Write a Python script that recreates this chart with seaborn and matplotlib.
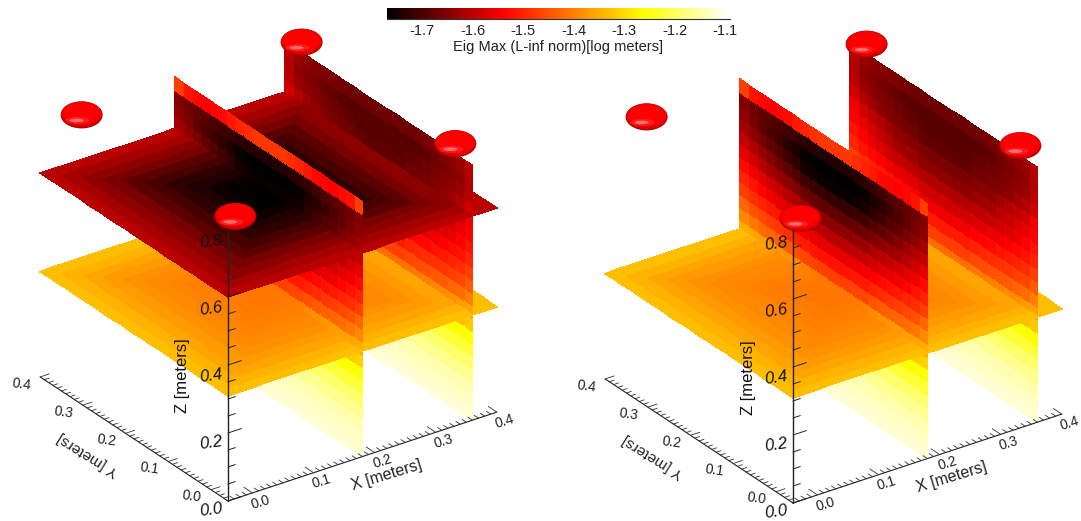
import numpy as np
import seaborn as sns
import matplotlib.pyplot as plt
from matplotlib.colors import LinearSegmentedColormap, Normalize
from matplotlib.patches import Ellipse

# cell edges of the slices, meters
grid_xy = [-0.04, -0.02, 0.0, 0.02, 0.04, 0.06, 0.08, 0.10, 0.12, 0.14, 0.16, 0.18,
           0.20, 0.22, 0.24, 0.26, 0.28, 0.30, 0.32, 0.34, 0.36, 0.38, 0.40]
grid_z = [0.0, 0.0375, 0.075, 0.1125, 0.15, 0.1875, 0.225, 0.2625, 0.3, 0.3375, 0.375,
          0.4125, 0.45, 0.4875, 0.525, 0.5625, 0.6, 0.6375, 0.675, 0.7125, 0.75]

# horizontal slices, value per square ring from the edge to the middle
rings_z06 = [-1.60, -1.62, -1.64, -1.66, -1.685, -1.705, -1.725, -1.74, -1.755, -1.765, -1.77]
rings_z03 = [-1.33, -1.345, -1.36, -1.37, -1.38, -1.39, -1.395, -1.40, -1.405, -1.41, -1.41]

# vertical slices: the lowest rows are the same across y
wall_low = [-1.12, -1.13, -1.145, -1.165, -1.19, -1.225, -1.26]

# columns from the y edge to the middle, rows going up from wall_low
wall_x018 = [
    [-1.31, -1.35, -1.39, -1.43, -1.47, -1.50, -1.53, -1.56, -1.59, -1.62, -1.64, -1.65, -1.47],
    [-1.32, -1.36, -1.41, -1.45, -1.49, -1.52, -1.55, -1.58, -1.61, -1.64, -1.66, -1.67, -1.52],
    [-1.325, -1.365, -1.42, -1.46, -1.50, -1.535, -1.565, -1.60, -1.63, -1.66, -1.68, -1.68, -1.53],
    [-1.33, -1.37, -1.43, -1.47, -1.51, -1.55, -1.58, -1.62, -1.65, -1.68, -1.70, -1.69, -1.54],
    [-1.335, -1.375, -1.435, -1.48, -1.52, -1.56, -1.59, -1.63, -1.665, -1.695, -1.715, -1.70, -1.535],
    [-1.34, -1.38, -1.44, -1.49, -1.53, -1.57, -1.60, -1.64, -1.68, -1.71, -1.73, -1.71, -1.53],
    [-1.345, -1.39, -1.45, -1.50, -1.54, -1.58, -1.615, -1.655, -1.695, -1.73, -1.745, -1.72, -1.515],
    [-1.35, -1.40, -1.46, -1.51, -1.55, -1.59, -1.63, -1.67, -1.71, -1.75, -1.76, -1.73, -1.50],
    [-1.355, -1.405, -1.465, -1.515, -1.555, -1.595, -1.635, -1.675, -1.715, -1.755, -1.765, -1.735, -1.49],
    [-1.36, -1.41, -1.47, -1.52, -1.56, -1.60, -1.64, -1.68, -1.72, -1.76, -1.77, -1.74, -1.48],
    [-1.36, -1.41, -1.47, -1.52, -1.56, -1.60, -1.64, -1.68, -1.72, -1.76, -1.77, -1.74, -1.48],
]
wall_x036 = [
    [-1.32, -1.36, -1.40, -1.44, -1.47, -1.50, -1.52, -1.54, -1.55, -1.58, -1.60, -1.61, -1.60],
    [-1.33, -1.37, -1.42, -1.46, -1.49, -1.52, -1.54, -1.56, -1.58, -1.61, -1.63, -1.64, -1.63],
    [-1.335, -1.38, -1.43, -1.47, -1.50, -1.53, -1.555, -1.575, -1.595, -1.625, -1.64, -1.65, -1.64],
    [-1.34, -1.39, -1.44, -1.48, -1.51, -1.54, -1.57, -1.59, -1.61, -1.64, -1.65, -1.66, -1.65],
    [-1.345, -1.395, -1.445, -1.485, -1.52, -1.55, -1.58, -1.605, -1.625, -1.65, -1.66, -1.67, -1.655],
    [-1.35, -1.40, -1.45, -1.49, -1.53, -1.56, -1.59, -1.62, -1.64, -1.66, -1.67, -1.68, -1.66],
    [-1.355, -1.405, -1.455, -1.495, -1.535, -1.565, -1.595, -1.625, -1.645, -1.665, -1.675, -1.685, -1.665],
    [-1.36, -1.41, -1.46, -1.50, -1.54, -1.57, -1.60, -1.63, -1.65, -1.67, -1.68, -1.69, -1.67],
    [-1.36, -1.42, -1.47, -1.51, -1.55, -1.58, -1.61, -1.64, -1.66, -1.68, -1.69, -1.69, -1.67],
    [-1.36, -1.42, -1.47, -1.51, -1.55, -1.58, -1.61, -1.64, -1.66, -1.68, -1.69, -1.69, -1.67],
    [-1.36, -1.42, -1.47, -1.51, -1.55, -1.58, -1.61, -1.64, -1.66, -1.68, -1.69, -1.69, -1.67],
]
wall_columns = [0, 1, 2, 3, 4, 5, 6, 7, 8, 9, 10, 10, 9, 8, 7, 6, 5, 4, 3, 2, 1, 0]

# red ellipsoids, meters
marker_x = [0.0, 0.36, 0.0, 0.36]
marker_y = [0.36, 0.36, 0.0, 0.0]
marker_z = [0.78, 0.78, 0.78, 0.78]

cbar_ticks = [-1.7, -1.6, -1.5, -1.4, -1.3, -1.2, -1.1]
xy_major = [0.0, 0.1, 0.2, 0.3, 0.4]
z_major = [0.0, 0.2, 0.4, 0.6, 0.8]

VMIN, VMAX = -1.77, -1.09
norm = Normalize(VMIN, VMAX)
cmap = LinearSegmentedColormap.from_list(
    "eig", [(0.0, "black"), (0.34, "#ff0000"), (0.75, "#ffff00"), (1.0, "white")])

sns.set_theme(style="white")
plt.rcParams["font.family"] = ["Liberation Sans", "DejaVu Sans"]

fig = plt.figure(figsize=(10.81, 5.21), dpi=100)
ax = fig.add_axes([0, 0, 1, 1])
ax.set_xlim(0, 1081)
ax.set_ylim(521, 0)
ax.axis("off")


def project(x, y, z, origin):
    # fixed oblique view, meters to pixels
    x, y, z = np.asarray(x), np.asarray(y), np.asarray(z)
    sx = origin[0] + 611 * (x + 0.04) - 427 * (y + 0.04)
    sy = origin[1] - 202 * (x + 0.04) - 282 * (y + 0.04) - 340 * z
    return sx, sy


def ring_values(rings):
    n = len(grid_xy) - 1
    idx = np.arange(n)
    depth = np.minimum(idx, n - 1 - idx)
    return np.array(rings)[np.minimum.outer(depth, depth)]


def draw_flat(z, vals, i0, i1, origin, order):
    xe = np.array(grid_xy)[i0:i1 + 1]
    ye = np.array(grid_xy)
    X, Y = np.meshgrid(xe, ye, indexing="ij")
    sx, sy = project(X, Y, np.full(X.shape, z), origin)
    ax.pcolormesh(sx, sy, vals[i0:i1, :], cmap=cmap, norm=norm, shading="flat",
                  edgecolors="face", linewidth=0.3, zorder=order)


def draw_wall(x, table, origin, order):
    cols = [wall_low + col for col in table]
    vals = np.array(cols)[wall_columns, :]
    Y, Z = np.meshgrid(grid_xy, grid_z, indexing="ij")
    sx, sy = project(np.full(Y.shape, x), Y, Z, origin)
    ax.pcolormesh(sx, sy, vals, cmap=cmap, norm=norm, shading="flat",
                  edgecolors="face", linewidth=0.3, zorder=order)


def draw_marker(x, y, z, origin):
    sx, sy = project(x, y, z, origin)
    ax.add_patch(Ellipse((sx, sy), 42, 27, color="#b40000", lw=0, zorder=20))
    ax.add_patch(Ellipse((sx, sy - 0.7), 41, 25.5, color="#dc0000", lw=0, zorder=21))
    ax.add_patch(Ellipse((sx, sy - 1.5), 39, 23, color="#f40000", lw=0, zorder=22))
    ax.add_patch(Ellipse((sx, sy - 2.5), 35, 18, color="#ff0000", lw=0, zorder=23))
    ax.add_patch(Ellipse((sx - 4, sy + 5.5), 24, 7, color="#ff3030", alpha=0.6, lw=0, zorder=24))
    ax.add_patch(Ellipse((sx - 5, sy + 5.5), 14, 3.5, color="#ff9090", alpha=0.7, lw=0, zorder=25))


def draw_axes(origin):
    ox, oy = project(-0.04, -0.04, 0, origin)
    ex, ey = project(0.40, -0.04, 0, origin)
    ax.plot([ox, ex], [oy, ey], color="#222222", lw=0.8, zorder=15)
    ex, ey = project(-0.04, 0.40, 0, origin)
    ax.plot([ox, ex], [oy, ey], color="#222222", lw=0.8, zorder=15)
    ex, ey = project(-0.04, -0.04, 0.82, origin)
    ax.plot([ox, ex], [oy, ey], color="#222222", lw=1.0, zorder=15)

    for k in range(-3, 41):
        t = k / 100
        ln = 0.02 if k % 10 == 0 else 0.01
        sx, sy = project([t, t], [-0.04, -0.04 + ln], [0, 0], origin)
        ax.plot(sx, sy, color="#333333", lw=0.6, zorder=15)
        ln = 0.015 if k % 10 == 0 else 0.008
        sx, sy = project([-0.04, -0.04 + ln], [t, t], [0, 0], origin)
        ax.plot(sx, sy, color="#333333", lw=0.6, zorder=15)
    for k in range(0, 17):
        t = k * 0.05
        ln = 0.022 if k % 4 == 0 else 0.012
        sx, sy = project([-0.04, -0.04 + ln], [-0.04, -0.04], [t, t], origin)
        ax.plot(sx, sy, color="#222222", lw=0.7, zorder=15)

    for t in xy_major:
        sx, sy = project(t, -0.04, 0, origin)
        ax.text(sx + 8, sy + 9, f"{t:.1f}", rotation=17, fontsize=10, color="#222222",
                ha="center", va="center", zorder=16)
        sx, sy = project(-0.04, t, 0, origin)
        ax.text(sx - 19, sy + 7, f"{t:.1f}", rotation=-8, fontsize=10, color="#222222",
                ha="center", va="center", zorder=16)
    for t in z_major:
        sx, sy = project(-0.04, -0.04, t, origin)
        ax.text(sx - 17, sy + 9 + 5 * t, f"{t:.1f}", rotation=8, fontsize=12, style="italic",
                color="#111111", ha="center", va="center", zorder=16)

    ax.text(origin[0] + 159, origin[1] - 26, "X [meters]", rotation=17, fontsize=11.5,
            color="#222222", ha="center", va="center", zorder=16)
    ax.text(origin[0] - 140, origin[1] - 46, "Y [meters]", rotation=148, fontsize=11,
            color="#222222", ha="center", va="center", zorder=16)
    ax.text(origin[0] - 45, origin[1] - 125, "Z [meters]", rotation=90, fontsize=12,
            color="#111111", ha="center", va="center", zorder=16)


def draw_panel(origin, flat_slices):
    # back to front, split where the slices cross
    n = len(grid_xy) - 1
    slabs = [(20, n, (0.36, wall_x036)), (11, 20, (0.18, wall_x018)), (0, 11, None)]
    order = 1
    for i0, i1, wall in slabs:
        for z, rings in flat_slices:
            draw_flat(z, ring_values(rings), i0, i1, origin, order)
            order += 1
        if wall is not None:
            draw_wall(wall[0], wall[1], origin, order)
            order += 1
    draw_axes(origin)
    for mx, my, mz in zip(marker_x, marker_y, marker_z):
        draw_marker(mx, my, mz, origin)


draw_panel((228, 501), [(0.31, rings_z03), (0.6, rings_z06)])
draw_panel((793, 503), [(0.31, rings_z03)])

# colorbar along the top
cax = fig.add_axes([387 / 1081, 1 - 18.5 / 521, 343 / 1081, 11 / 521])
strip = np.linspace(VMIN, VMAX, 256)[None, :]
sns.heatmap(strip, ax=cax, cmap=cmap, norm=norm, cbar=False, xticklabels=False, yticklabels=False)
cax.set_xticks([(t - VMIN) / (VMAX - VMIN) * 256 for t in cbar_ticks])
cax.set_xticklabels([f"{t:.1f}" for t in cbar_ticks], fontsize=10.5, color="#222222", rotation=0)
cax.tick_params(axis="x", length=0, pad=4, bottom=True)
cax.spines["bottom"].set_visible(True)
cax.spines["bottom"].set_color("#333333")
cax.spines["bottom"].set_linewidth(0.8)
fig.text(558 / 1081, 1 - 47 / 521, "Eig Max (L-inf norm)[log meters]", fontsize=10.5,
         color="#222222", ha="center", va="center")

fig.savefig("out.png", dpi=100)
